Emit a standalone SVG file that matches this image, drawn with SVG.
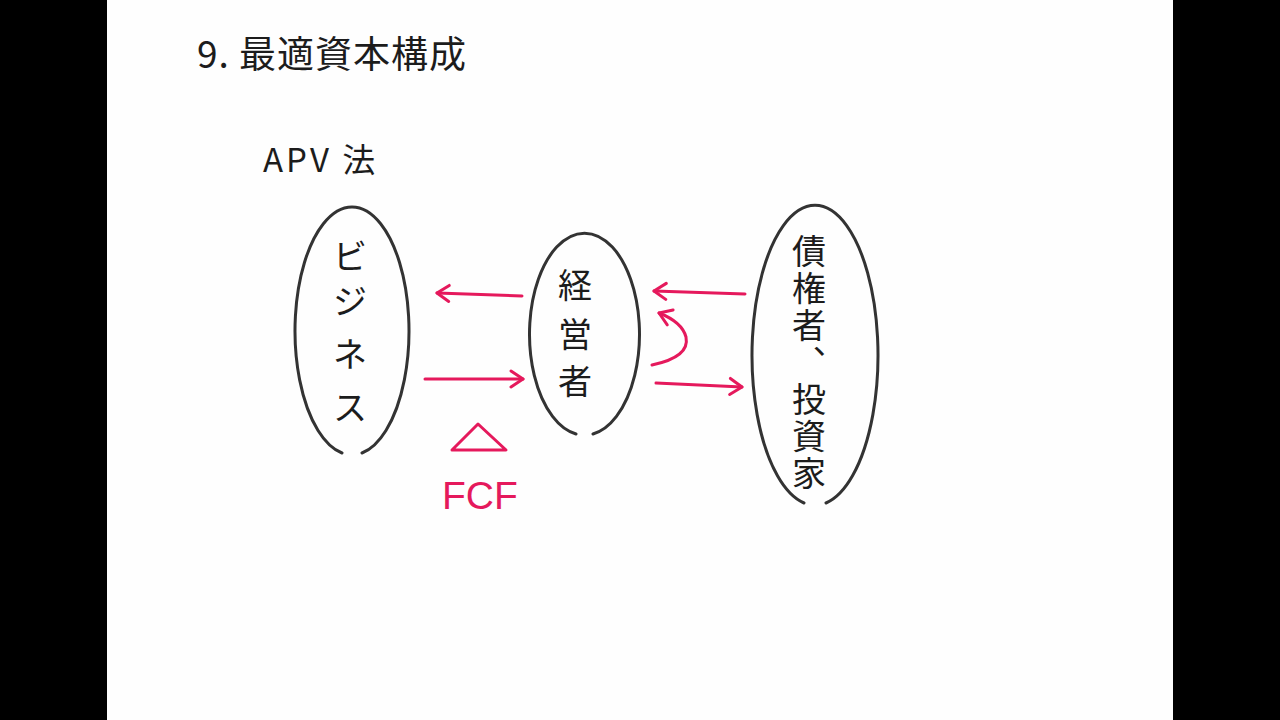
<svg xmlns="http://www.w3.org/2000/svg" width="1280" height="720" viewBox="0 0 1280 720">
<style>
.bg{fill:#000}
.paper{fill:#fefefe}
.ink{font-family:"Noto Sans CJK JP","Noto Sans",sans-serif;fill:#1c1c1c}
.node{fill:none;stroke:#333;stroke-width:3;stroke-linecap:round}
.label{font-family:"Noto Sans CJK JP",sans-serif;font-size:34px;fill:#1c1c1c;text-anchor:middle}
.pink{fill:none;stroke:#e5195c;stroke-width:3;stroke-linecap:round;stroke-linejoin:round}
.pinktext{font-family:"Liberation Sans",sans-serif;fill:#e5195c}
</style>
<defs>
<marker id="ah" markerUnits="userSpaceOnUse" markerWidth="20" markerHeight="20" refX="15" refY="10" orient="auto">
<path d="M3,2 L15,10 L3,18" fill="none" stroke="#e5195c" stroke-width="3" stroke-linecap="round" stroke-linejoin="round"/>
</marker>
</defs>
<rect class="bg" x="0" y="0" width="1280" height="720"/>
<rect class="paper" x="107" y="0" width="1066" height="720"/>

<g id="title">
<text class="ink" x="197" y="68" font-size="37" letter-spacing="1">9. 最適資本構成</text>
</g>
<g id="apv">
<text class="ink" x="263" y="172" font-size="33" letter-spacing="3">APV 法</text>
</g>

<g id="business">
<path class="node" d="M362,453 A57,124 0 1 0 342,453"/>
<text class="label" x="350" y="269">ビ</text>
<text class="label" x="350" y="314">ジ</text>
<text class="label" x="350" y="367">ネ</text>
<text class="label" x="350" y="420">ス</text>
</g>

<g id="manager">
<path class="node" d="M593,434 A55,101 0 1 0 576,434"/>
<text class="label" x="575" y="298" font-size="37">経</text>
<text class="label" x="575" y="347" font-size="37">営</text>
<text class="label" x="575" y="394" font-size="37">者</text>
</g>

<g id="creditors">
<path class="node" d="M826,503 A63,150 0 1 0 804,503"/>
<text class="label" x="809" y="234" font-size="31" letter-spacing="3" writing-mode="vertical-rl" style="text-anchor:start">債権者︑投資家</text>
</g>

<g id="connectors">
<path class="pink" d="M522,296 L437,293" marker-end="url(#ah)"/>
<path class="pink" d="M425,379 L523,379" marker-end="url(#ah)"/>
<path class="pink" d="M745,294 L654,291" marker-end="url(#ah)"/>
<path class="pink" d="M656,383 L742,387" marker-end="url(#ah)"/>
<path class="pink" d="M652,365 Q690,357 686,337 Q682,322 659,313" marker-end="url(#ah)"/>
</g>

<g id="fcf">
<path class="pink" d="M452,450 L478,424 L506,450 Z"/>
<text class="pinktext" x="442" y="509" font-size="39">FCF</text>
</g>
</svg>
